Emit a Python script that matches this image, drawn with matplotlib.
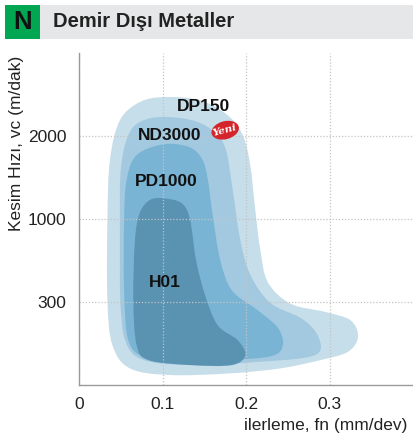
import matplotlib
matplotlib.use("Agg")
import matplotlib.pyplot as plt
from matplotlib.path import Path
from matplotlib.patches import PathPatch, Rectangle, Ellipse
from matplotlib.transforms import ScaledTranslation
import numpy as np

plt.rcParams['font.family'] = ['Liberation Sans', 'DejaVu Sans']

# feed (mm/dev) and cutting speed band (0..4, ticks at 300/1000/2000) outlines
dp150_x = [0.103, 0.145, 0.178, 0.196, 0.205, 0.211, 0.217, 0.226, 0.253, 0.295, 0.325, 0.334,
           0.322, 0.289, 0.241, 0.181, 0.109, 0.061, 0.040, 0.034, 0.034, 0.037, 0.049, 0.073]
dp150_y = [3.47, 3.43, 3.25, 3.01, 2.65, 2.11, 1.63, 1.24, 0.98, 0.88, 0.78, 0.58,
           0.40, 0.30, 0.20, 0.14, 0.12, 0.20, 0.48, 1.02, 1.99, 2.71, 3.19, 3.41]

nd3000_x = [0.103, 0.139, 0.163, 0.176, 0.184, 0.193, 0.205, 0.229, 0.265, 0.284, 0.289,
            0.271, 0.217, 0.145, 0.085, 0.059, 0.050, 0.049, 0.050, 0.059, 0.075]
nd3000_y = [3.23, 3.18, 3.04, 2.83, 2.35, 1.75, 1.33, 0.99, 0.81, 0.63, 0.42,
            0.33, 0.28, 0.24, 0.28, 0.45, 0.90, 1.87, 2.59, 3.01, 3.18]

pd1000_x = [0.101, 0.131, 0.147, 0.154, 0.160, 0.169, 0.183, 0.214, 0.238, 0.244,
            0.231, 0.181, 0.121, 0.079, 0.059, 0.054, 0.054, 0.057, 0.069]
pd1000_y = [2.90, 2.87, 2.73, 2.49, 2.05, 1.51, 1.14, 0.90, 0.69, 0.48,
            0.35, 0.30, 0.28, 0.33, 0.54, 1.14, 1.99, 2.47, 2.77]

h01_x = [0.101, 0.123, 0.133, 0.140, 0.151, 0.166, 0.190, 0.199,
         0.183, 0.133, 0.083, 0.069, 0.065, 0.067, 0.073, 0.085]
h01_y = [2.25, 2.19, 1.99, 1.51, 1.08, 0.72, 0.54, 0.36,
         0.24, 0.24, 0.30, 0.48, 1.02, 1.75, 2.08, 2.23]

grades = ['DP150', 'ND3000', 'PD1000', 'H01']
label_x = [0.149, 0.109, 0.105, 0.103]
label_y = [3.36, 3.01, 2.45, 1.24]
colors = ['#c6deea', '#a2c9df', '#7ab4d4', '#5a92b2']

speed_ticks = ['300', '1000', '2000']
feed_ticks = ['0', '0.1', '0.2', '0.3']


def smooth_closed(xs, ys):
    # closed catmull-rom outline drawn as cubic bezier segments
    p = np.column_stack([xs, ys])
    n = len(p)
    verts = [p[0]]
    codes = [Path.MOVETO]
    for i in range(n):
        p0, p1, p2, p3 = p[i - 1], p[i], p[(i + 1) % n], p[(i + 2) % n]
        verts += [p1 + (p2 - p0) / 6, p2 - (p3 - p1) / 6, p2]
        codes += [Path.CURVE4] * 3
    return Path(verts, codes)


fig = plt.figure(figsize=(4.14, 4.37), dpi=100)

# header band
fig.patches.append(Rectangle((0.0966, 0.9108), 0.9034, 0.0778, transform=fig.transFigure,
                             facecolor='#e6e7e8', edgecolor='none'))
fig.patches.append(Rectangle((0.012, 0.9108), 0.0846, 0.0778, transform=fig.transFigure,
                             facecolor='#00a651', edgecolor='none'))
fig.text(0.054, 0.950, 'N', fontsize=18.5, fontweight='bold', ha='center', va='center', color='#111111')
fig.text(0.128, 0.950, 'Demir Dışı Metaller', fontsize=14.5, fontweight='bold', ha='left',
         va='center', color='#222222')

ax = fig.add_axes([0.1908, 0.119, 0.8092, 0.7597])

outlines = [(dp150_x, dp150_y), (nd3000_x, nd3000_y), (pd1000_x, pd1000_y), (h01_x, h01_y)]
for (xs, ys), c in zip(outlines, colors):
    ax.add_patch(PathPatch(smooth_closed(xs, ys), facecolor=c, edgecolor='none', zorder=1))

for name, lx, ly in zip(grades, label_x, label_y):
    ax.text(lx, ly, name, fontsize=12.5, fontweight='bold', ha='center', va='center',
            color='#111111', zorder=4)

# "Yeni" badge, sized in inches around a data-anchored centre
badge_tr = fig.dpi_scale_trans + ScaledTranslation(0.175, 3.07, ax.transData)
ax.add_patch(Ellipse((0, 0), 0.28, 0.18, angle=15, transform=badge_tr,
                     facecolor='#d4252a', edgecolor='none', zorder=5))
ax.text(0.175, 3.07, 'Yeni', fontsize=7.5, color='white', style='italic', fontweight='bold',
        family='DejaVu Serif', rotation=15, ha='center', va='center', zorder=6)

ax.set_xlim(0, 0.401)
ax.set_ylim(0, 4.0)
ax.set_xticks([0, 0.1, 0.2, 0.3])
ax.set_xticklabels(feed_ticks)
ax.set_yticks([1, 2, 3])
ax.set_yticklabels(speed_ticks)
ax.tick_params(length=0, labelsize=12.5, colors='#222222')
ax.tick_params(axis='y', pad=9)
ax.tick_params(axis='x', pad=9)

ax.grid(True, linestyle=(0, (1, 1.5)), color='#c4c4c4', linewidth=0.9, zorder=3)
ax.set_axisbelow(False)
for s in ['top', 'right']:
    ax.spines[s].set_visible(False)
for s in ['left', 'bottom']:
    ax.spines[s].set_color('#9a9a9a')
    ax.spines[s].set_linewidth(1.0)
    ax.spines[s].set_zorder(6)

fig.text(0.985, 0.027, 'ilerleme, fn (mm/dev)', fontsize=12.5, ha='right', va='center', color='#222222')
fig.text(0.041, 0.672, 'Kesim Hızı, vc (m/dak)', fontsize=12.5, rotation=90, ha='center',
         va='center', color='#222222')

fig.savefig('out.png', dpi=100)
